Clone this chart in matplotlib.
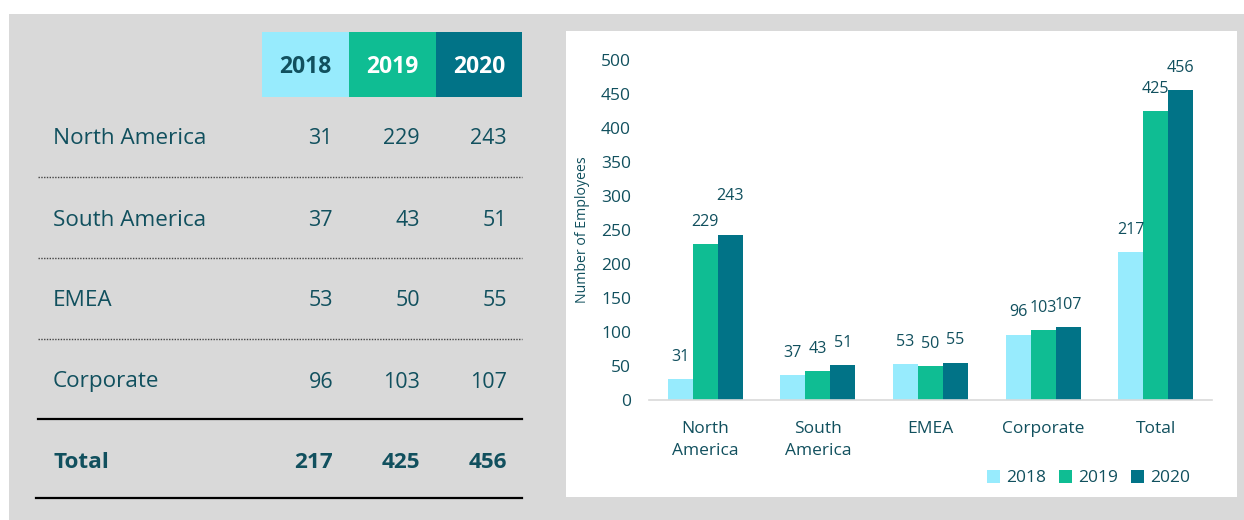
import matplotlib
matplotlib.use("Agg")
import matplotlib.pyplot as plt
from matplotlib.patches import Rectangle, Patch
from matplotlib.lines import Line2D
import numpy as np

plt.rcParams['font.family'] = ['Open Sans', 'DejaVu Sans']

regions = ['North America', 'South America', 'EMEA', 'Corporate']
years = ['2018', '2019', '2020']
v2018 = [31, 37, 53, 96]
v2019 = [229, 43, 50, 103]
v2020 = [243, 51, 55, 107]
chart_labels = ['North\nAmerica', 'South\nAmerica', 'EMEA', 'Corporate', 'Total']

colors = ['#97EBFD', '#0FBD93', '#017387']
txt = '#11505E'
W, H = 1244, 520


def fx(x):
    return x / W


def fy(y):
    return 1 - y / H


def main():
    totals = [sum(v2018), sum(v2019), sum(v2020)]
    fig = plt.figure(figsize=(W / 100, H / 100), dpi=100)
    fig.patch.set_facecolor('white')

    # backgrounds
    fig.add_artist(Rectangle((fx(9), 0), 1, fy(14), transform=fig.transFigure,
                             facecolor='#D9D9D9', edgecolor='none', zorder=0))
    fig.add_artist(Rectangle((fx(566), fy(497)), fx(1237 - 566), (497 - 31) / H,
                             transform=fig.transFigure, facecolor='white',
                             edgecolor='none', zorder=0))

    draw_table(fig, totals)
    draw_chart(fig, totals)
    fig.savefig('out.png', dpi=100)


def draw_table(fig, totals):
    cells = [262, 349, 436, 522]
    for i, yr in enumerate(years):
        fig.add_artist(Rectangle((fx(cells[i]), fy(97)), fx(cells[i + 1] - cells[i]), 65 / H,
                                 transform=fig.transFigure, facecolor=colors[i],
                                 edgecolor='none'))
        fig.text(fx((cells[i] + cells[i + 1]) / 2), fy(67), yr, ha='center', va='center',
                 fontsize=16.5, fontweight='bold', color=txt if i == 0 else 'white')

    num_x = [333, 420, 507]
    row_y = [139, 220, 301, 382]
    for r, name in enumerate(regions):
        y = row_y[r]
        fig.text(fx(53), fy(y), name, ha='left', va='center', fontsize=16.2, color=txt)
        for c, vals in enumerate([v2018, v2019, v2020]):
            fig.text(fx(num_x[c]), fy(y), str(vals[r]), ha='right', va='center',
                     fontsize=15.5, color=txt)
        if r < 3:
            fig.add_artist(Line2D([fx(38), fx(522)], [fy(y + 38)] * 2, transform=fig.transFigure,
                                  color='#444444', lw=1, linestyle=(0, (1, 1))))
    fig.add_artist(Line2D([fx(38), fx(522)], [fy(419)] * 2, transform=fig.transFigure,
                          color='black', lw=1.6))
    fig.text(fx(53), fy(463), 'Total', ha='left', va='center', fontsize=16.2,
             fontweight='bold', color=txt)
    for c in range(3):
        fig.text(fx(num_x[c]), fy(463), str(totals[c]), ha='right', va='center',
                 fontsize=16.2, fontweight='bold', color=txt)
    fig.add_artist(Line2D([fx(36), fx(522)], [fy(498)] * 2, transform=fig.transFigure,
                          color='black', lw=1.6))


def draw_chart(fig, totals):
    ax = fig.add_axes([fx(649), fy(400), fx(1212 - 649), 340 / H])
    ax.set_facecolor('none')
    series = [v2018 + [totals[0]], v2019 + [totals[1]], v2020 + [totals[2]]]
    x = np.arange(len(chart_labels))
    bw = 0.222
    for i, vals in enumerate(series):
        pos = x + (i - 1) * bw
        ax.bar(pos, vals, width=bw, color=colors[i], label=years[i], zorder=2)
        for j, v in enumerate(vals):
            off = 28 if (i == 2 and j == 0) else 16
            ax.annotate(str(v), (pos[j], v), xytext=(0, off), textcoords='offset points',
                        ha='center', va='center', fontsize=11.6, color=txt,
                        annotation_clip=False)
    ax.set_xlim(-0.5, 4.5)
    ax.set_ylim(0, 500)
    ax.set_yticks(range(0, 501, 50))
    ax.set_xticks(x)
    ax.set_xticklabels(chart_labels, linespacing=1.55)
    ax.tick_params(axis='both', length=0, labelsize=12.5, labelcolor=txt)
    ax.tick_params(axis='y', pad=13)
    ax.tick_params(axis='x', pad=15)
    for s in ['top', 'right', 'left']:
        ax.spines[s].set_visible(False)
    ax.spines['bottom'].set_color('#D9D9D9')
    ax.spines['bottom'].set_linewidth(1.2)

    fig.text(fx(583), fy(230), 'Number of Employees', rotation=90, ha='center',
             va='center', fontsize=10.2, color=txt)

    handles = [Patch(facecolor=colors[i], label=years[i]) for i in range(3)]
    ax.legend(handles=handles, loc='center right', bbox_to_anchor=(fx(1190), fy(478)),
              bbox_transform=fig.transFigure, ncol=3, frameon=False, fontsize=12.5,
              handlelength=0.75, handleheight=0.75, handletextpad=0.35,
              columnspacing=0.75, labelcolor=txt, borderaxespad=0, borderpad=0)


if __name__ == '__main__':
    main()
